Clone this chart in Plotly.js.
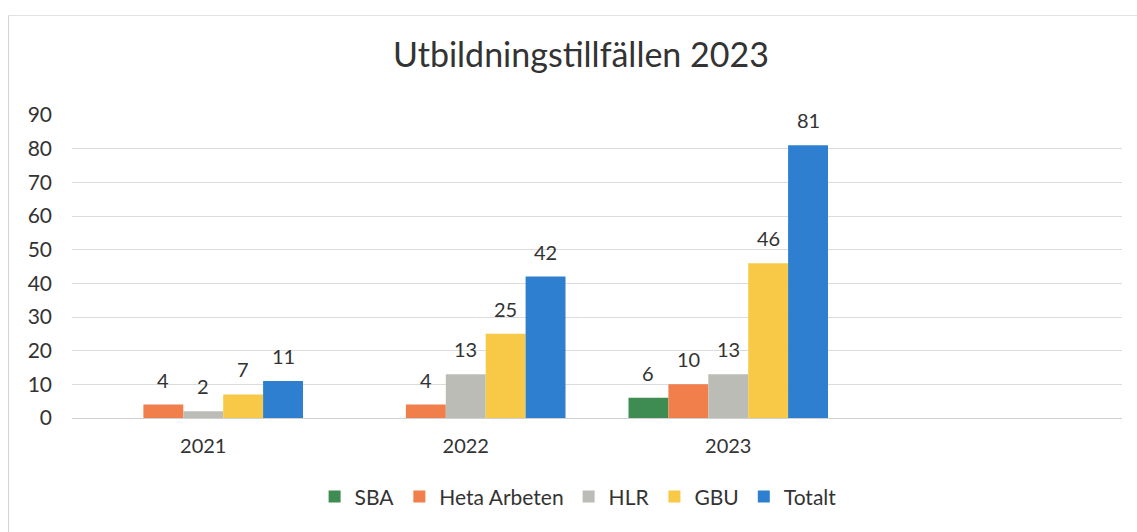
<!DOCTYPE html>
<html>
<head>
<meta charset="utf-8">
<script src="https://cdn.plot.ly/plotly-3.0.1.min.js"></script>
<style>
  html, body { margin: 0; padding: 0; background: #fff; }
  #wrap { position: relative; width: 1137px; height: 532px; }
  #chart { position: absolute; left: 0; top: 0; width: 1137px; height: 532px; }
  #frame { position: absolute; left: 8px; top: 15px; right: 0; bottom: 0;
           border-top: 1px solid #e2e2e2; border-left: 1px solid #d4d4d4; pointer-events: none; }
</style>
</head>
<body>
<div id="wrap">
  <div id="chart"></div>
  <div id="frame"></div>
</div>
<script>
// Kategorier (fjärde platsen är tom i originalet)
const AR = ['2021', '2022', '2023', ' '];

const SBA = [null, null, 6, null];
const HETA_ARBETEN = [4, 4, 10, null];
const HLR = [2, 13, 13, null];
const GBU = [7, 25, 46, null];
const TOTALT = [11, 42, 81, null];

const SERIER = [
  { namn: 'SBA', varden: SBA, farg: '#3e8c52' },
  { namn: 'Heta Arbeten', varden: HETA_ARBETEN, farg: '#f07f4c' },
  { namn: 'HLR', varden: HLR, farg: '#bbbcb5' },
  { namn: 'GBU', varden: GBU, farg: '#f8c946' },
  { namn: 'Totalt', varden: TOTALT, farg: '#2e7fcf' },
];

const FONT = 'Lato, "Open Sans", sans-serif';
const BARGAP = 0.24;

const traces = SERIER.map(s => ({
  x: AR,
  y: s.varden,
  name: s.namn,
  type: 'bar',
  marker: { color: s.farg },
  hoverinfo: 'x+y+name',
}));

// Dataetiketter ovanför staplarna (grupperade: varje serie har sin plats i kategorin)
const bredd = (1 - BARGAP) / SERIER.length;
const etiketter = [];
SERIER.forEach((s, i) => {
  s.varden.forEach((v, k) => {
    if (v === null) return;
    etiketter.push({
      x: k + (i - (SERIER.length - 1) / 2) * bredd,
      y: v,
      xref: 'x', yref: 'y',
      text: String(v),
      showarrow: false,
      yanchor: 'middle',
      yshift: 25,
      font: { family: FONT, size: 20, color: '#333' },
    });
  });
});

const layout = {
  paper_bgcolor: 'rgba(0,0,0,0)',
  plot_bgcolor: 'rgba(0,0,0,0)',
  font: { family: FONT, size: 20, color: '#333' },
  margin: { l: 72, r: 15, t: 115, b: 114 },
  title: {
    text: 'Utbildningstillfällen 2023',
    font: { family: FONT, size: 34, color: '#333' },
    x: 0.511, xanchor: 'center', y: 0.897, yanchor: 'middle',
  },
  barmode: 'group',
  bargap: BARGAP,
  bargroupgap: 0,
  xaxis: {
    type: 'category',
    showgrid: false,
    showline: false,
    ticks: '',
    ticklabelstandoff: 14,
    tickfont: { family: FONT, size: 20, color: '#333' },
  },
  yaxis: {
    range: [0, 90],
    dtick: 10,
    gridcolor: '#dcdcdc',
    gridwidth: 1,
    zeroline: true,
    zerolinecolor: '#d0d0d0',
    zerolinewidth: 1,
    ticks: '',
    ticklabelstandoff: 19,
    tickfont: { family: FONT, size: 21, color: '#333' },
  },
  annotations: etiketter,
  showlegend: true,
  legend: {
    orientation: 'h',
    x: 0.482, xanchor: 'center',
    y: -0.26, yanchor: 'middle',
    font: { family: FONT, size: 21, color: '#333' },
    itemwidth: 30,
    traceorder: 'normal',
  },
};

Plotly.newPlot('chart', traces, layout, { displayModeBar: false, responsive: false });
</script>
</body>
</html>
